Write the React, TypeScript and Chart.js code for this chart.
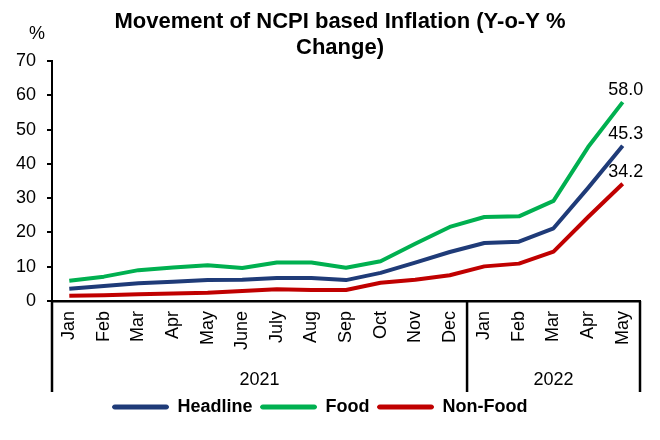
import React, { useEffect, useRef } from "react";
import { Chart, registerables } from "chart.js";

Chart.register(...registerables);

const FONT = "'Liberation Sans', Arial, Helvetica, sans-serif";

const titleLines = ["Movement of NCPI based Inflation (Y-o-Y %", "Change)"];
const unitLabel = "%";

const months = ["Jan", "Feb", "Mar", "Apr", "May", "June", "July", "Aug", "Sep", "Oct", "Nov", "Dec", "Jan", "Feb", "Mar", "Apr", "May"];
const yearLabels = ["2021", "2022"];
const yearMonthCounts = [12, 5];

const headline = [3.6, 4.4, 5.2, 5.6, 6.1, 6.2, 6.7, 6.7, 6.1, 8.2, 11.2, 14.3, 16.9, 17.3, 21.2, 33.0, 45.3];
const food = [5.9, 7.1, 9.0, 9.8, 10.4, 9.6, 11.2, 11.2, 9.7, 11.6, 16.7, 21.6, 24.5, 24.7, 29.2, 44.9, 58.0];
const nonFood = [1.5, 1.7, 2.0, 2.2, 2.4, 2.9, 3.4, 3.2, 3.2, 5.3, 6.2, 7.5, 10.1, 10.9, 14.4, 24.5, 34.2];

const seriesNames = ["Headline", "Food", "Non-Food"];
const seriesColors = ["#1F3B78", "#00B050", "#C00000"];

const yMin = 0;
const yMax = 70;
const yStep = 10;

const decorPlugin = {
  id: "decor",
  afterDatasetsDraw(chart: any) {
    const ctx = chart.ctx;
    ctx.save();
    ctx.font = `18px ${FONT}`;
    ctx.fillStyle = "#000";
    ctx.textAlign = "center";
    ctx.textBaseline = "middle";
    chart.data.datasets.forEach((ds: any, i: number) => {
      const meta = chart.getDatasetMeta(i);
      const last = meta.data[meta.data.length - 1];
      const v = ds.data[ds.data.length - 1];
      ctx.fillText(Number(v).toFixed(1), last.x + 3, last.y - 12);
    });
    ctx.restore();
  },
  afterDraw(chart: any) {
    const ctx = chart.ctx;
    const xs = chart.scales.x;
    ctx.save();
    // title
    ctx.fillStyle = "#000";
    ctx.font = `bold 22px ${FONT}`;
    ctx.textAlign = "center";
    ctx.textBaseline = "alphabetic";
    ctx.fillText(titleLines[0], 340, 28);
    ctx.fillText(titleLines[1], 340, 53.5);
    // unit
    ctx.font = `18px ${FONT}`;
    ctx.textBaseline = "middle";
    ctx.fillText(unitLabel, 37, 34);
    // year groups
    const top = xs.top;
    const bottom = xs.top + 91;
    const bounds: number[] = [xs.left];
    let idx = 0;
    yearMonthCounts.forEach((c, gi) => {
      idx += c;
      if (gi < yearMonthCounts.length - 1) {
        bounds.push((xs.getPixelForTick(idx - 1) + xs.getPixelForTick(idx)) / 2);
      } else {
        bounds.push(xs.right);
      }
    });
    ctx.strokeStyle = "#000";
    ctx.lineWidth = 2.5;
    bounds.forEach((bx) => {
      ctx.beginPath();
      ctx.moveTo(bx, top);
      ctx.lineTo(bx, bottom);
      ctx.stroke();
    });
    ctx.font = `18px ${FONT}`;
    ctx.textAlign = "center";
    ctx.textBaseline = "middle";
    yearLabels.forEach((lab, i) => {
      ctx.fillText(lab, (bounds[i] + bounds[i + 1]) / 2, top + 79);
    });
    ctx.restore();
  },
};

export default function App() {
  const ref = useRef<HTMLCanvasElement>(null);
  useEffect(() => {
    document.body.style.margin = "0";
    const canvas = ref.current;
    if (!canvas) return;
    const series = [headline, food, nonFood];
    const chart = new Chart(canvas, {
      type: "line",
      data: {
        labels: months,
        datasets: series.map((d, i) => ({
          label: seriesNames[i],
          data: d,
          borderColor: seriesColors[i],
          backgroundColor: seriesColors[i],
          borderWidth: 4,
          pointRadius: 0,
          pointHoverRadius: 0,
          tension: 0,
          borderJoinStyle: "round" as const,
          fill: false,
        })),
      },
      options: {
        responsive: false,
        animation: false,
        devicePixelRatio: 1,
        layout: { padding: { top: 61, left: 0, right: 20, bottom: 14 } },
        plugins: {
          title: { display: false },
          tooltip: { enabled: false },
          legend: {
            position: "bottom",
            labels: {
              boxWidth: 56,
              boxHeight: 4,
              padding: 8,
              color: "#000",
              font: { size: 18, weight: "bold", family: FONT },
              useBorderRadius: true,
              borderRadius: 2,
              generateLabels: (c: any) =>
                c.data.datasets.map((ds: any, i: number) => ({
                  text: ds.label,
                  fillStyle: ds.borderColor,
                  strokeStyle: ds.borderColor,
                  lineWidth: 1,
                  hidden: false,
                  datasetIndex: i,
                  fontColor: "#000",
                  borderRadius: 2,
                })),
            },
          },
        },
        scales: {
          x: {
            type: "category",
            offset: true,
            grid: { display: false, drawTicks: false, offset: true },
            border: { display: true, color: "#000", width: 2.5 },
            ticks: {
              color: "#000",
              font: { size: 18, family: FONT },
              minRotation: 90,
              maxRotation: 90,
              autoSkip: false,
              padding: 10,
            },
            afterFit: (s: any) => {
              s.height = 89;
            },
          },
          y: {
            min: yMin,
            max: yMax,
            ticks: {
              stepSize: yStep,
              color: "#000",
              font: { size: 18, family: FONT },
              padding: 11,
            },
            grid: { drawOnChartArea: false, drawTicks: true, tickLength: 5, color: "#000", lineWidth: 2 },
            border: { display: true, color: "#000", width: 2 },
            afterFit: (s: any) => {
              s.width = 52;
            },
          },
        },
      } as any,
      plugins: [decorPlugin],
    });
    return () => chart.destroy();
  }, []);
  return (
    <div style={{ width: 660, height: 440, background: "#fff" }}>
      <canvas ref={ref} width={660} height={440} style={{ width: 660, height: 440, display: "block" }} />
    </div>
  );
}
